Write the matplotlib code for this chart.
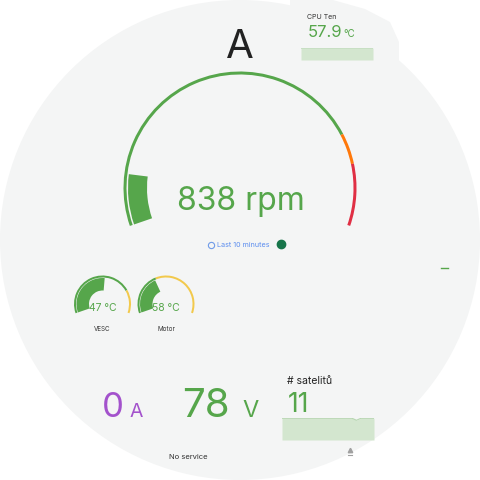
import matplotlib
matplotlib.use("Agg")
import matplotlib.pyplot as plt
from matplotlib.patches import Circle, Wedge, Polygon
from matplotlib.transforms import Bbox, TransformedBbox

plt.rcParams["font.family"] = ["Inter", "DejaVu Sans"]

# --- data ---
rpm_value = 838
rpm_max = 7000
rpm_thresholds = [0, 5500, 6000]
rpm_colors = ["#56a64b", "#ff780a", "#e02f44"]

temp_labels = ["VESC", "Motor"]
temp_values = [47, 58]
temp_max = [90, 150]
temp_thresholds = [70, 60]

cpu_temp = [57.8, 57.9, 57.9, 58.0, 57.9, 57.8, 57.9, 58.0, 58.0, 57.9, 57.9, 57.9]
current_a = 0
voltage_v = 78
satellites = [11, 11, 11, 11, 11, 11, 11, 11, 11, 11, 11, 11, 11, 11, 11, 11, 11, 10, 11, 11, 11, 11]

GREEN = "#56a64b"
YELLOW = "#f2c94c"
PURPLE = "#a352cc"
BG = "#f4f5f5"
START, SPAN = 199, 218


def P(x, y):
    # pixel coords (origin top-left) -> data coords
    return x, 480 - y


def ang(frac):
    return START - frac * SPAN


def arc(ax, c, r, w, f0, f1, color):
    ax.add_patch(Wedge(c, r, ang(f1), ang(f0), width=w, color=color, lw=0))


fig = plt.figure(figsize=(4.8, 4.8), dpi=100, facecolor="white")
ax = fig.add_axes([0, 0, 1, 1])
ax.set_xlim(0, 480)
ax.set_ylim(0, 480)
ax.axis("off")

ax.add_patch(Circle((240, 240), 240, fc=BG, ec="none"))
# CPU panel background pokes out past the round screen a bit
bulge = [P(290, 0), P(333, 0), P(365, 9), P(390, 22), P(399, 42), P(399, 62), P(290, 62)]
ax.add_patch(Polygon(bulge, closed=True, fc=BG, ec="none"))

# main rpm gauge
c = P(240, 188)
edges = [t / rpm_max for t in rpm_thresholds] + [1.0]
for i, col in enumerate(rpm_colors):
    arc(ax, c, 116.5, 3, edges[i], edges[i + 1], col)
arc(ax, c, 112, 19, 0, rpm_value / rpm_max, GREEN)

ax.text(*P(240, 58), "A", fontsize=29, color="#222222", ha="center", va="baseline")
ax.text(*P(240.5, 210), "%d rpm" % rpm_value, fontsize=23, color=GREEN, ha="center", va="baseline")
ax.plot(*P(210.5, 245), "o", ms=4.5, mfc="none", mec="#6f9be8", mew=0.8)
ax.text(*P(217, 245), "Last 10 minutes", fontsize=5.2, color="#5b8def", ha="left", va="center")
ax.plot(*P(281, 244), "o", ms=6, color="#17754a")

# CPU temp panel (title is cut off by the panel edge)
cpu_lbl = ax.text(*P(307, 19), "CPU Temperature", fontsize=5, color="#333333",
                  ha="left", va="baseline", clip_on=True)
cpu_lbl.set_clip_box(TransformedBbox(Bbox([P(300, 30), P(336, 5)]), ax.transData))
ax.text(*P(308, 37), "%.1f" % cpu_temp[-1], fontsize=12, color=GREEN, ha="left", va="baseline")
ax.text(*P(343, 37), "°C", fontsize=7, color=GREEN, ha="left", va="baseline")

# small temperature gauges
for lbl, val, mx, th, cx in zip(temp_labels, temp_values, temp_max, temp_thresholds, [102.5, 166]):
    cc = P(cx, 304)
    arc(ax, cc, 28.5, 2, 0, th / mx, GREEN)
    arc(ax, cc, 28.5, 2, th / mx, 1, YELLOW)
    arc(ax, cc, 26, 12.5, 0, val / mx, GREEN)
    ax.text(*P(cx, 311), "%d °C" % val, fontsize=7.5, color=GREEN, ha="center", va="baseline")
    ax.text(*P(cx, 329), lbl, fontsize=4.5, color="#333333", ha="center", va="center")

# bottom stats
ax.text(*P(102, 417), "%d" % current_a, fontsize=25, color=PURPLE, ha="left", va="baseline")
ax.text(*P(130, 417), "A", fontsize=14, color=PURPLE, ha="left", va="baseline")
ax.text(*P(182, 417), "%d" % voltage_v, fontsize=29, color=GREEN, ha="left", va="baseline")
ax.text(*P(242, 417), "V", fontsize=17, color=GREEN, ha="left", va="baseline")
ax.text(*P(287, 384), "# satelitů", fontsize=7.5, color="#222222", ha="left", va="baseline")
ax.text(*P(288, 412), "%d" % satellites[-1], fontsize=19, color=GREEN, ha="left", va="baseline")
ax.text(*P(169, 459), "No service", fontsize=5.5, color="#333333", ha="left", va="baseline")

ax.plot(*P(350, 450), "^", ms=3.2, color="#a0a0a0")
ax.plot([P(348, 455)[0], P(352, 455)[0]], [P(348, 455)[1]] * 2, color="#a0a0a0", lw=0.8)
ax.plot([P(441, 268)[0], P(448, 268)[0]], [P(441, 268)[1]] * 2, color=GREEN, lw=1)


def spark(x0, y0, x1, y1, data, ymin, ymax):
    sx = fig.add_axes([x0 / 480, 1 - y1 / 480, (x1 - x0) / 480, (y1 - y0) / 480])
    xs = list(range(len(data)))
    sx.fill_between(xs, ymin, data, color="#d3e6cf", lw=0)
    sx.plot(xs, data, color="#b6d6b0", lw=0.8)
    sx.set_xlim(0, len(data) - 1)
    sx.set_ylim(ymin, ymax)
    sx.axis("off")


spark(301, 48, 373, 60, cpu_temp, 0, 58.2)
spark(282, 418, 374, 440, satellites, 0, 11.15)

fig.savefig("out.png", dpi=100, facecolor="white")
